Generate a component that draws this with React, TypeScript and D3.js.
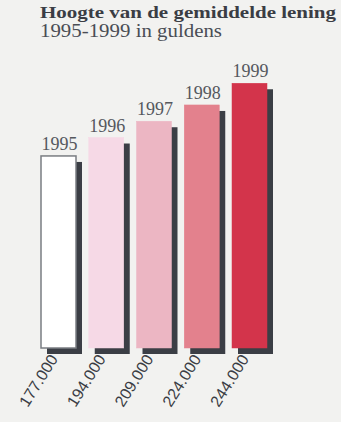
import React from "react";
import * as d3 from "d3";

const years = ["1995", "1996", "1997", "1998", "1999"];
const values = [177000, 194000, 209000, 224000, 244000];
const valueLabels = ["177.000", "194.000", "209.000", "224.000", "244.000"];
const colors = ["#ffffff", "#f6d9e6", "#ecb6c3", "#e3818d", "#d3344b"];
const title = "Hoogte van de gemiddelde lening";
const subtitle = "1995-1999 in guldens";

const W = 341;
const H = 422;

export default function App() {
  const x = d3.scaleBand<string>().domain(years).range([41, 267]).paddingInner(0.267).paddingOuter(0);
  const y = d3.scaleLinear().domain([0, 250000]).range([348, 76.75]);
  const bw = x.bandwidth();
  const sh = 6;
  return (
    <svg width={W} height={H} style={{ position: "absolute", left: 0, top: 0 }}>
      <rect x={0} y={0} width={W} height={H} fill="#f2f2f0" />
      <text x={40} y={18} fontFamily="Liberation Serif" fontWeight="bold" fontSize={17} fill="#3a3d44" textLength={296} lengthAdjust="spacingAndGlyphs">{title}</text>
      <text x={40} y={37} fontFamily="Liberation Serif" fontSize={18} fill="#4a4d54" textLength={182} lengthAdjust="spacingAndGlyphs">{subtitle}</text>
      {years.map((yr, i) => {
        const x0 = x(yr)!;
        const top = y(values[i]);
        const h = y(0) - top;
        return (
          <g key={yr}>
            <rect x={x0 + sh} y={top + sh} width={bw} height={h} fill="#3b3e45" />
            <rect x={x0} y={top} width={bw} height={h} fill={colors[i]} stroke={i === 0 ? "#7a7d82" : colors[i]} strokeWidth={i === 0 ? 1.5 : 0.5} />
            <text x={x0 + bw / 2 + 1} y={top - 6} textAnchor="middle" fontFamily="Liberation Serif" fontSize={18} fill="#55585e">{yr}</text>
            <text transform={`translate(${x0 + bw / 2},${y(0) + 11}) rotate(-58)`} textAnchor="end" fontFamily="Liberation Sans" fontSize={16} fill="#3a3d44">{valueLabels[i]}</text>
          </g>
        );
      })}
    </svg>
  );
}
